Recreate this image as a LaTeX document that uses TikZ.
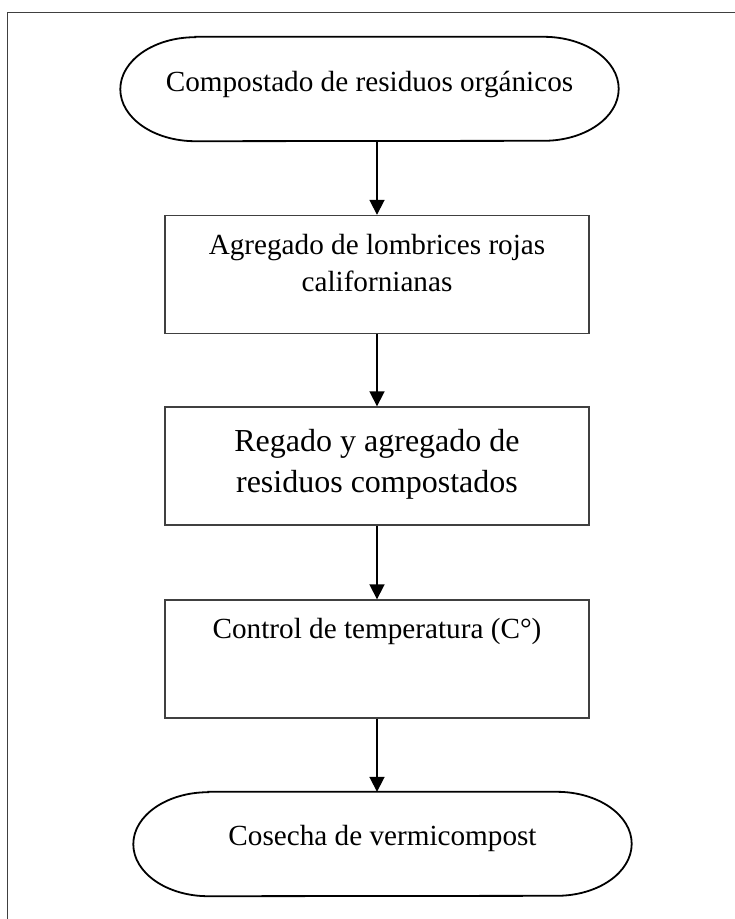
\documentclass[tikz,border=0pt]{standalone}
\usepackage{fontspec}
\setmainfont{Liberation Serif}
\usetikzlibrary{arrows.meta}

\tikzset{
  frameline/.style={draw=black!75, line width=1pt},
  stepbox/.style={draw=black!75, line width=1.4pt, minimum width=424pt, minimum height=118pt, inner sep=0pt},
  termbox/.style={draw=none, minimum width=498pt, minimum height=104pt, inner sep=0pt},
  termline/.style={draw=black, line width=1.8pt},
  flow/.style={draw=black, line width=1.8pt, -{Triangle[length=15pt,width=15pt]}},
  txt/.style={font=\fontsize{29.2}{37}\selectfont, align=center, inner sep=0pt, anchor=base},
  bigtxt/.style={font=\fontsize{32}{41}\selectfont, align=center, inner sep=0pt, anchor=base},
}

% terminator outline: straight top and bottom, half-elliptic ends
\newcommand\terminatorpath[1]{%
  \draw[termline] ([xshift=75pt]#1.north west) -- ([xshift=-75pt]#1.north east)
    arc[start angle=90, end angle=-90, x radius=75pt, y radius=52pt]
    -- ([xshift=75pt]#1.south west)
    arc[start angle=270, end angle=90, x radius=75pt, y radius=52pt] -- cycle;}

\begin{document}
\begin{tikzpicture}[x=1pt, y=-1pt]
  \useasboundingbox (0,0) rectangle (735,919);
  \fill[white] (0,0) rectangle (735,919);

  % page frame (top and left edges)
  \coordinate (fa) at (7,919);
  \coordinate (fb) at (7,12);
  \coordinate (fc) at (735,12);
  \draw[frameline] (fa) -- (fb) -- (fc);

  % start terminator
  \node[termbox] (t1) at (369.5,89) {};
  \terminatorpath{t1}
  \node[txt] (t1text) at (369.5,91) {Compostado de residuos orgánicos};

  % process steps (multi-line labels are placed by their last baseline)
  \node[stepbox] (b2) at (377,274.5) {};
  \node[txt] (b2text) at (377,291) {Agregado de lombrices rojas\\californianas};

  \node[stepbox] (b3) at (377,466) {};
  \node[bigtxt] (b3text) at (377,492) {Regado y agregado de\\residuos compostados};

  \node[stepbox] (b4) at (377,659) {};
  \node[txt] (b4text) at (377,638) {Control de temperatura (C°)};

  % end terminator
  \node[termbox] (t2) at (382.5,844) {};
  \terminatorpath{t2}
  \node[txt] (t2text) at (382.5,845) {Cosecha de vermicompost};

  % connectors
  \draw[flow] (t1.south -| b2.north) -- (b2.north);
  \draw[flow] (b2.south) -- (b3.north);
  \draw[flow] (b3.south) -- (b4.north);
  \draw[flow] (b4.south) -- (b4.south |- t2.north);
\end{tikzpicture}
\end{document}
